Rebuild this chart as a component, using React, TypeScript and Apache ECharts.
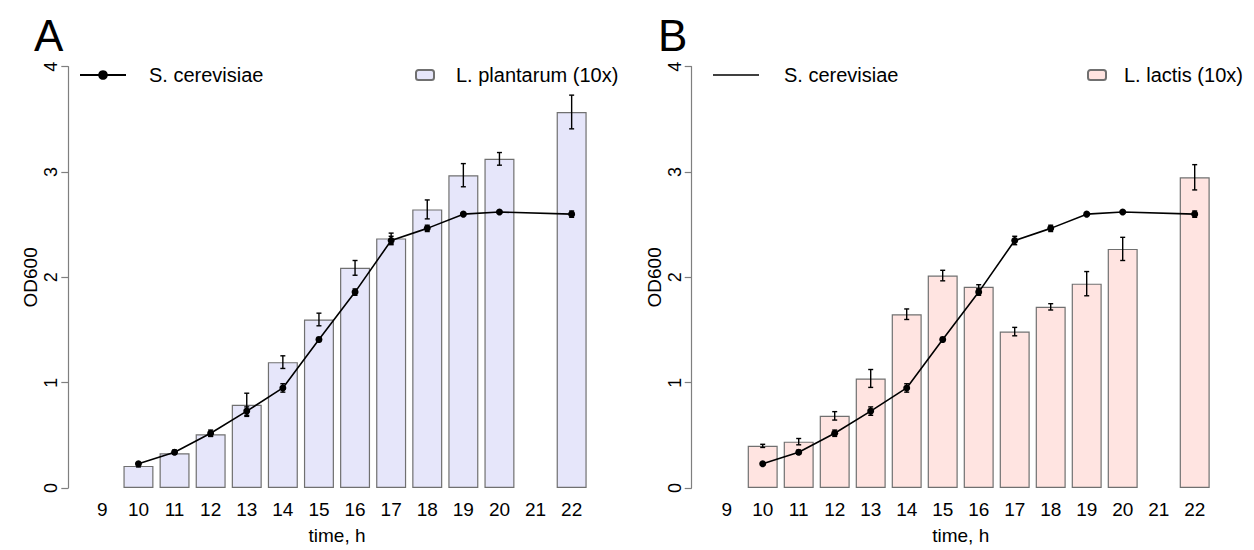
import React, { useEffect, useRef } from "react";
import * as echarts from "echarts";

const categories = ["9", "10", "11", "12", "13", "14", "15", "16", "17", "18", "19", "20", "21", "22"];
const hours = [10, 11, 12, 13, 14, 15, 16, 17, 18, 19, 20, 22];

const yeastOD = [0.23, 0.34, 0.52, 0.73, 0.95, 1.41, 1.86, 2.35, 2.465, 2.6, 2.62, 2.6];
const yeastErr = [0.01, 0.02, 0.03, 0.04, 0.04, 0.02, 0.03, 0.04, 0.03, 0.01, 0.01, 0.03];

const plantarumOD = [0.21, 0.33, 0.51, 0.79, 1.195, 1.6, 2.09, 2.37, 2.645, 2.97, 3.125, 3.57];
const plantarumErr = [0.01, 0.01, 0.02, 0.11, 0.06, 0.06, 0.07, 0.05, 0.09, 0.11, 0.06, 0.16];

const lactisOD = [0.4, 0.44, 0.685, 1.04, 1.65, 2.017, 1.91, 1.485, 1.72, 1.94, 2.27, 2.95];
const lactisErr = [0.015, 0.03, 0.04, 0.085, 0.05, 0.05, 0.02, 0.04, 0.03, 0.115, 0.11, 0.12];

const yTicks = [0, 1, 2, 3, 4];

const FONT = "Liberation Sans, Arial, sans-serif";

function aligned(values: number[]) {
  return categories.map((c) => {
    const i = hours.indexOf(Number(c));
    return i >= 0 ? values[i] : null;
  });
}

function errData(values: number[], errs: number[]) {
  return hours.map((h, i) => [String(h), values[i], errs[i]]);
}

function errSeries(values: number[], errs: number[], idx: number, z: number) {
  return {
    type: "custom",
    xAxisIndex: idx,
    yAxisIndex: idx,
    z,
    silent: true,
    data: errData(values, errs),
    encode: { x: 0, y: 1 },
    renderItem: (params: any, api: any) => {
      const x = api.value(0);
      const v = api.value(1);
      const e = api.value(2);
      const top = api.coord([x, v + e]);
      const bot = api.coord([x, v - e]);
      const w = 2.5;
      const style = { stroke: "#000", lineWidth: 1.4 };
      return {
        type: "group",
        children: [
          { type: "line", shape: { x1: top[0], y1: top[1], x2: bot[0], y2: bot[1] }, style },
          { type: "line", shape: { x1: top[0] - w, y1: top[1], x2: top[0] + w, y2: top[1] }, style },
          { type: "line", shape: { x1: bot[0] - w, y1: bot[1], x2: bot[0] + w, y2: bot[1] }, style },
        ],
      };
    },
  };
}

function xAxis(idx: number) {
  return {
    type: "category",
    gridIndex: idx,
    data: categories,
    axisLine: { show: false },
    axisTick: { show: false },
    axisLabel: { color: "#000", fontSize: 19, fontFamily: FONT, margin: 12, interval: 0 },
    name: "time, h",
    nameLocation: "middle",
    nameGap: 38,
    nameTextStyle: { color: "#000", fontSize: 19, fontFamily: FONT },
  };
}

function yAxis(idx: number, offset: number) {
  return {
    type: "value",
    gridIndex: idx,
    min: yTicks[0],
    max: yTicks[yTicks.length - 1],
    interval: 1,
    offset,
    axisLine: { show: true, lineStyle: { color: "#7f7f7f", width: 1.2 } },
    axisTick: { show: true, length: 7, lineStyle: { color: "#7f7f7f", width: 1.2 } },
    splitLine: { show: false },
    axisLabel: { color: "#000", fontSize: 18, fontFamily: FONT, rotate: 90, margin: 8 },
    name: "OD600",
    nameLocation: "middle",
    nameRotate: 90,
    nameGap: 28,
    nameTextStyle: { color: "#000", fontSize: 19, fontFamily: FONT },
  };
}

function barSeries(name: string, values: number[], idx: number, color: string) {
  return {
    type: "bar",
    name,
    xAxisIndex: idx,
    yAxisIndex: idx,
    z: 2,
    barWidth: 30,
    data: aligned(values),
    itemStyle: { color, borderColor: "#707070", borderWidth: 1.2 },
  };
}

function lineSeries(idx: number) {
  return {
    type: "line",
    name: "S. cerevisiae",
    xAxisIndex: idx,
    yAxisIndex: idx,
    z: 4,
    data: aligned(yeastOD),
    connectNulls: true,
    symbol: "circle",
    symbolSize: 7,
    lineStyle: { color: "#000", width: 1.6 },
    itemStyle: { color: "#000" },
  };
}

export default function App() {
  const ref = useRef<HTMLDivElement>(null);
  useEffect(() => {
    if (!ref.current) return;
    const chart = echarts.init(ref.current, null, { renderer: "svg" });
    const legendText = { color: "#000", fontSize: 20, fontFamily: FONT };
    const legendTop = 60;
    chart.setOption({
      animation: false,
      backgroundColor: "#fff",
      grid: [
        { left: 84.3, width: 505.4, top: 66.7, height: 428.3 },
        { left: 708.7, width: 504, top: 66.7, height: 428.3 },
      ],
      xAxis: [xAxis(0), xAxis(1)],
      yAxis: [yAxis(0, 16), yAxis(1, 17)],
      legend: [
        {
          data: ["S. cerevisiae"],
          left: 74,
          top: legendTop,
          itemWidth: 46,
          itemHeight: 12,
          selectedMode: false,
          textStyle: { ...legendText, padding: [0, 0, 0, 18] },
        },
        {
          data: ["L. plantarum (10x)"],
          left: 410,
          top: legendTop,
          itemWidth: 18,
          itemHeight: 10,
          selectedMode: false,
          textStyle: { ...legendText, padding: [0, 0, 0, 17] },
        },
        {
          data: [{ name: "S. cerevisiae", icon: "rect" }],
          left: 708,
          top: legendTop,
          itemWidth: 46,
          itemHeight: 1.6,
          selectedMode: false,
          textStyle: { ...legendText, padding: [0, 0, 0, 20] },
        },
        {
          data: ["L. lactis (10x)"],
          left: 1082,
          top: legendTop,
          itemWidth: 18,
          itemHeight: 10,
          selectedMode: false,
          textStyle: { ...legendText, padding: [0, 0, 0, 13] },
        },
      ],
      graphic: [
        { type: "text", left: 34, top: 13, style: { text: "A", fontSize: 44, fontFamily: FONT, fill: "#000" } },
        { type: "text", left: 658, top: 13, style: { text: "B", fontSize: 44, fontFamily: FONT, fill: "#000" } },
      ],
      series: [
        barSeries("L. plantarum (10x)", plantarumOD, 0, "#e6e6fa"),
        errSeries(plantarumOD, plantarumErr, 0, 3),
        lineSeries(0),
        errSeries(yeastOD, yeastErr, 0, 5),
        barSeries("L. lactis (10x)", lactisOD, 1, "#ffe4e1"),
        errSeries(lactisOD, lactisErr, 1, 3),
        lineSeries(1),
        errSeries(yeastOD, yeastErr, 1, 5),
      ],
    });
    return () => chart.dispose();
  }, []);
  return (
    <div
      ref={ref}
      style={{ position: "absolute", left: 0, top: 0, width: 1254, height: 550 }}
    />
  );
}
